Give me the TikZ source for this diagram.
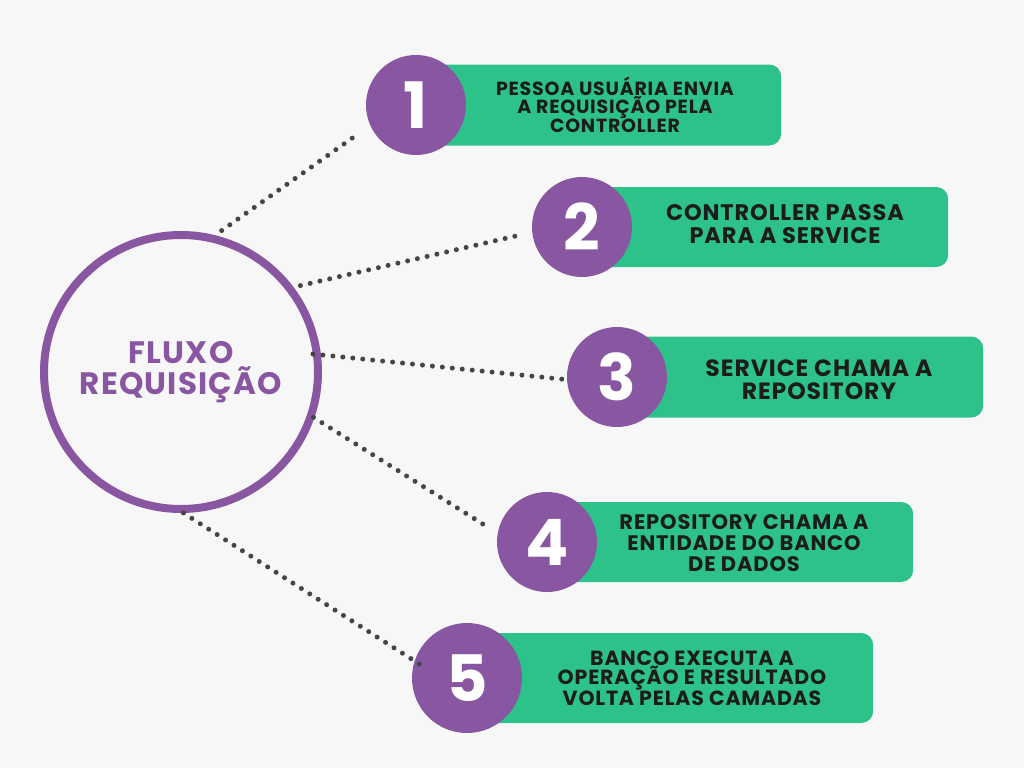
\documentclass[tikz,border=0pt]{standalone}
\usepackage{fontspec}
\setmainfont{Poppins}[LetterSpace=4]
\definecolor{fundo}{HTML}{F7F7F7}
\definecolor{roxo}{HTML}{8957A1}
\definecolor{verde}{HTML}{2EC28B}
\definecolor{tinta}{HTML}{1C1C1C}
\definecolor{ponto}{HTML}{454545}

\begin{document}
\begin{tikzpicture}[
        x=1pt, y=-1pt,
        hub/.style={circle, draw=roxo, line width=8pt, minimum size=274pt, inner sep=0pt, text=roxo, align=center, font=\fontsize{31}{31}\selectfont\bfseries},
        num/.style={circle, fill=roxo, minimum size=100pt, inner sep=0pt, text=white, font=\fontsize{64}{64}\selectfont\bfseries},
        box/.style={rectangle, rounded corners=12pt, fill=verde, anchor=west, minimum height=80pt, minimum width=366pt},
        txt/.style={text=tinta, align=center, inner sep=0pt},
        link/.style={ponto, line width=5pt, line cap=round, dash pattern=on 0pt off 10pt}
    ]

    % background
    \fill[fundo] (0,0) rectangle (1024,768);
    \useasboundingbox (0,0) rectangle (1024,768);

    % green boxes
    \node[box, minimum width=365pt, minimum height=81pt] (b1) at (416,105) {};
    \node[box] (b2) at (582,227) {};
    \node[box, minimum height=81pt] (b3) at (617,377) {};
    \node[box] (b4) at (547,542) {};
    \node[box, minimum width=406pt, minimum height=90pt] (b5) at (467,678) {};

    % numbered circles
    \node[num] (n1) at (b1.west) {1};
    \node[num] (n2) at (b2.west) {2};
    \node[num] (n3) at (b3.west) {3};
    \node[num] (n4) at (b4.west) {4};
    \node[num, minimum size=110pt] (n5) at (b5.west) {5};

    % central circle
    \node[hub] (hub) at (181,372) {FLUXO\\REQUISIÇÃO};

    % box texts
    \node[txt, font=\fontsize{19}{17.5}\selectfont\bfseries] (t1) at (615,105) {PESSOA USUÁRIA ENVIA\\A REQUISIÇÃO PELA\\CONTROLLER};
    \node[txt, font=\fontsize{22.5}{23}\selectfont\bfseries] (t2) at (785,224) {CONTROLLER PASSA\\PARA A SERVICE};
    \node[txt, font=\fontsize{23.5}{23}\selectfont\bfseries] (t3) at (819,380) {SERVICE CHAMA A\\REPOSITORY};
    \node[txt, font=\fontsize{21}{21}\selectfont\bfseries] (t4) at (744,543) {REPOSITORY CHAMA A\\ENTIDADE DO BANCO\\DE DADOS};
    \node[txt, font=\fontsize{20.5}{19}\selectfont\bfseries] (t5) at (692,678) {BANCO EXECUTA A\\OPERAÇÃO E RESULTADO\\VOLTA PELAS CAMADAS};

    % dotted links
    \draw[link, shorten <=8pt, shorten >=16pt] (hub.76) -- (n1.204);
    \draw[link, shorten <=7pt, shorten >=9pt] (hub.37) -- (n2.186);
    \draw[link, shorten <=-8pt, shorten >=2pt] (hub.7) -- (n3.183);
    \draw[link, shorten <=-1pt, shorten >=8pt] (hub.-19) -- (n4.170);
    \draw[link, shorten >=-8pt] (hub.-89) -- (n5.162);

\end{tikzpicture}
\end{document}
